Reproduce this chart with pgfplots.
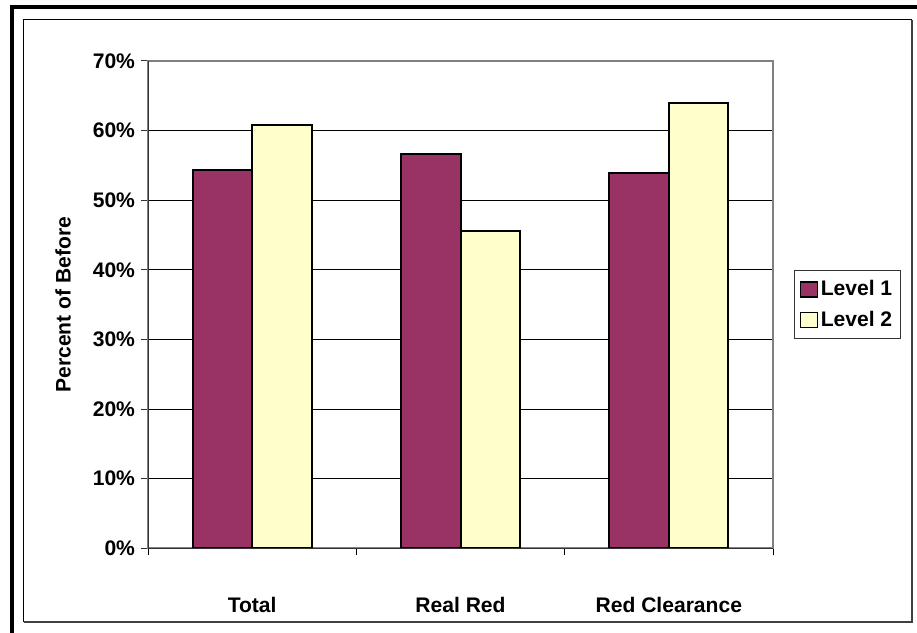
\documentclass[border=0pt]{standalone}
\usepackage{pgfplots}
\pgfplotsset{compat=1.18}
\usepackage{fontspec}
\setmainfont{Liberation Sans}

\definecolor{levelone}{HTML}{993366}
\definecolor{leveltwo}{HTML}{FFFFCC}
\definecolor{framegray}{HTML}{808080}

\begin{document}
\begin{tikzpicture}[x=0.75pt,y=0.75pt]
  \useasboundingbox (0,0) rectangle (917,632);
  % outer frame, partly cut off at the right and bottom edges
  \begin{scope}
    \clip (0,0) rectangle (917,632);
    \draw[black, line width=3pt] (11.5,-20) rectangle (940,624.5);
  \end{scope}
  % inner chart frame with a darker right/bottom edge
  \draw[black, line width=0.75pt] (23.5,10) -- (23.5,612) -- (912,612);
  \draw[black!75, line width=1.5pt] (912,612) -- (912,10) -- (23.5,10);

  \begin{axis}[
    at={(111pt,62.8pt)}, anchor=south west,
    scale only axis,
    width=468.75pt, height=365.5pt,
    xmin=-0.5, xmax=2.5, ymin=0, ymax=70,
    enlargelimits=false,
    ybar=0pt, bar width=44.6pt,
    axis line style={draw=framegray, line width=1.5pt},
    font=\fontsize{15.8}{18}\selectfont\bfseries,
    xtick pos=bottom, ytick pos=left,
    xtick={0,1,2},
    xticklabels={Total, Real Red, Red Clearance},
    major x tick style={draw=none},
    minor xtick={-0.5,0.5,1.5,2.5},
    minor x tick style={draw=black, line width=0.75pt},
    minor tick length=5.25pt,
    ytick={0,10,...,70},
    yticklabels={0\%,10\%,20\%,30\%,40\%,50\%,60\%,70\%},
    major y tick style={draw=black!80, line width=0.75pt},
    major tick length=5.25pt,
    tick align=outside,
    xticklabel style={yshift=-28pt},
    yticklabel style={xshift=-1pt},
    ymajorgrids,
    major grid style={draw=black, line width=0.75pt},
    ylabel={Percent of Before},
    ylabel style={at={(axis description cs:-0.136,0.5)}, anchor=center},
    legend style={
      at={(1.0336,0.5)}, anchor=west,
      draw=black!80, line width=0.75pt,
      font=\fontsize{15.8}{18}\selectfont\bfseries,
      inner xsep=4pt, inner ysep=5.5pt,
      row sep=6pt,
      cells={anchor=west},
    },
    legend image code/.code={
      \draw[#1, line width=1.2pt] (0pt,-5.6pt) rectangle (12.5pt,5.6pt);
    },
  ]
    \addplot[fill=levelone, draw=black, line width=1.5pt]
      coordinates {(0,54.4) (1,56.6) (2,53.9)};
    \addplot[fill=leveltwo, draw=black, line width=1.5pt]
      coordinates {(0,60.8) (1,45.6) (2,63.9)};
    \legend{Level 1\hspace{9pt}, Level 2\hspace{9pt}}
    % axis lines on the left and bottom are darker than the box
    \draw[black!80, line width=0.75pt]
      (rel axis cs:0,1) -- (rel axis cs:0,0) -- (rel axis cs:1,0);
  \end{axis}
\end{tikzpicture}
\end{document}
